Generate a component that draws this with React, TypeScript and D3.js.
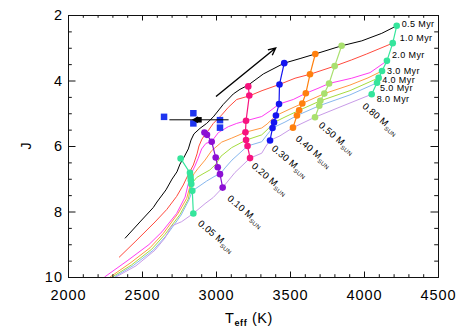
import { useRef, useEffect } from 'react';
import * as d3 from 'd3';

// isochrones (ages, colours)
const isoAges = ['0.5 Myr', '1.0 Myr', '2.0 Myr', '3.0 Myr', '4.0 Myr', '5.0 Myr', '8.0 Myr'];
const isoColors = ['#000000', '#ff4a3d', '#ff3cf2', '#ff9840', '#a5dc3f', '#87b7ee', '#c89be8'];

const iso05Teff = [2385, 2486, 2576, 2601, 2662, 2703, 2736, 2757, 2784, 2813, 2831, 2851, 2892, 2937, 2982, 3049, 3117, 3162, 3218, 3320, 3461, 3568, 3671, 3849, 3985, 4120, 4221];
const iso05J = [8.82, 8.32, 7.88, 7.71, 7.34, 7.01, 6.79, 6.55, 6.34, 6.09, 5.82, 5.63, 5.46, 5.31, 5.11, 4.73, 4.41, 4.27, 4.14, 3.80, 3.47, 3.33, 3.19, 2.94, 2.79, 2.56, 2.33];
const iso10Teff = [2345, 2459, 2588, 2667, 2734, 2779, 2804, 2847, 2872, 2885, 2905, 2926, 2946, 2982, 3039, 3083, 3140, 3225, 3311, 3429, 3534, 3635, 3802, 3917, 4018, 4194];
const iso10J = [9.40, 8.90, 8.32, 7.94, 7.54, 7.19, 6.95, 6.58, 6.24, 6.00, 5.79, 5.65, 5.54, 5.31, 5.05, 4.82, 4.58, 4.47, 4.31, 4.12, 3.93, 3.81, 3.56, 3.37, 3.19, 2.86];
const iso20Teff = [2247, 2399, 2547, 2635, 2734, 2791, 2814, 2838, 2858, 2880, 2903, 2932, 2971, 3016, 3083, 3140, 3203, 3309, 3365, 3426, 3522, 3607, 3689, 3764, 3917, 4041, 4155];
const iso20J = [10.0, 9.51, 9.01, 8.62, 8.06, 7.56, 7.13, 6.79, 6.61, 6.37, 6.09, 5.92, 5.86, 5.59, 5.41, 5.31, 5.23, 5.10, 4.93, 4.72, 4.58, 4.39, 4.24, 4.09, 3.93, 3.76, 3.40];
const iso30Teff = [2284, 2419, 2554, 2644, 2745, 2802, 2821, 2830, 2851, 2878, 2926, 2971, 3039, 3106, 3199, 3309, 3345, 3405, 3500, 3583, 3732, 3905, 4027, 4122];
const iso30J = [10.0, 9.58, 9.11, 8.67, 8.05, 7.60, 7.28, 7.05, 6.85, 6.69, 6.43, 6.14, 5.88, 5.76, 5.58, 5.45, 5.33, 5.07, 4.87, 4.70, 4.40, 4.14, 3.92, 3.71];
const iso40Teff = [2299, 2430, 2566, 2655, 2757, 2813, 2833, 2870, 2912, 2959, 3000, 3034, 3106, 3203, 3309, 3351, 3392, 3473, 3562, 3705, 3905, 4099];
const iso40J = [10.0, 9.63, 9.15, 8.70, 8.09, 7.62, 7.16, 6.96, 6.85, 6.73, 6.55, 6.31, 6.05, 5.82, 5.66, 5.48, 5.28, 5.10, 4.91, 4.62, 4.31, 3.92];
const iso50Teff = [2313, 2441, 2576, 2667, 2764, 2818, 2840, 2892, 2937, 2993, 3027, 3061, 3108, 3213, 3309, 3345, 3382, 3466, 3547, 3698, 3905, 4088];
const iso50J = [10.0, 9.65, 9.18, 8.72, 8.11, 7.64, 7.37, 7.21, 7.07, 6.92, 6.86, 6.67, 6.43, 6.00, 5.87, 5.66, 5.45, 5.27, 5.07, 4.77, 4.44, 4.07];
const iso80Teff = [2324, 2459, 2588, 2655, 2701, 2768, 2847, 2926, 2982, 3045, 3128, 3230, 3309, 3338, 3365, 3432, 3520, 3669, 3838, 4052];
const iso80J = [10.0, 9.66, 9.18, 8.81, 8.44, 8.31, 8.06, 7.76, 7.57, 7.27, 6.81, 6.37, 6.22, 6.00, 5.83, 5.69, 5.44, 5.12, 4.81, 4.42];

// mass tracks (one point per age)
const masses = ['0.05', '0.10', '0.20', '0.30', '0.40', '0.50', '0.80'];
const massColors = ['#35e59c', '#8c10d4', '#f7137e', '#1414f0', '#ff800e', '#a9e06e', '#35e59c'];
const m005Teff = [2761, 2824, 2828, 2830, 2833, 2840, 2847];
const m005J = [6.38, 6.82, 6.95, 7.05, 7.16, 7.37, 8.06];
const m010Teff = [2922, 2939, 2971, 2998, 3012, 3027, 3045];
const m010J = [5.59, 5.66, 5.87, 6.35, 6.65, 6.86, 7.27];
const m020Teff = [3218, 3225, 3203, 3199, 3203, 3213, 3230];
const m020J = [4.18, 4.46, 5.23, 5.58, 5.82, 6.00, 6.37];
const m030Teff = [3461, 3429, 3426, 3405, 3392, 3382, 3365];
const m030J = [3.47, 4.12, 4.72, 5.07, 5.28, 5.45, 5.83];
const m040Teff = [3671, 3635, 3607, 3583, 3562, 3547, 3520];
const m040J = [3.19, 3.81, 4.39, 4.70, 4.91, 5.07, 5.44];
const m050Teff = [3849, 3802, 3764, 3732, 3705, 3698, 3669];
const m050J = [2.94, 3.56, 4.09, 4.40, 4.62, 4.77, 5.12];
const m080Teff = [4221, 4194, 4155, 4122, 4099, 4088, 4052];
const m080J = [2.33, 2.86, 3.40, 3.71, 3.92, 4.07, 4.42];

// observed objects
const sqTeff = [2649, 2847, 2847, 3027, 3027];
const sqJ = [5.11, 5.00, 5.31, 5.21, 5.44];
const starTeff = 2885;
const starJ = 5.20;
const starErr = 200;

// big arrow (start, end)
const arrowTeff = [3000, 3403];
const arrowJ = [4.49, 3.01];

const xMajor = [2000, 2500, 3000, 3500, 4000, 4500];
const yMajor = [2, 4, 6, 8, 10];

const W = 463, H = 331;
const margin = { top: 15, right: 25, bottom: 54, left: 68 };

// label offsets in px (layout only)
const massLabelOff = [[4, 11], [4, 12], [1, 9], [1, 9], [2, 12], [3, 9], [-10, 13]];
const ageLabelOff = [[5, 1], [7, -2], [5, -2.6], [5, 2.8], [3.6, 5.2], [3, 8.6], [5, 7.6]];

const App = () => {
  const svgRef = useRef<SVGSVGElement>(null);

  useEffect(() => {
    const svg = d3.select(svgRef.current);
    svg.selectAll('*').remove();
    const font = "'Liberation Sans', Arial, Helvetica, sans-serif";

    const x = d3.scaleLinear().domain([2000, 4500]).range([margin.left, W - margin.right]);
    const y = d3.scaleLinear().domain([2, 10]).range([margin.top, H - margin.bottom]);

    svg.append('rect').attr('width', W).attr('height', H).attr('fill', '#fff');

    svg.append('defs').append('clipPath').attr('id', 'plotClip').append('rect')
      .attr('x', x(2000)).attr('y', y(2))
      .attr('width', x(4500) - x(2000)).attr('height', y(10) - y(2));

    const plot = svg.append('g').attr('clip-path', 'url(#plotClip)');
    const line = d3.line<[number, number]>().x(d => x(d[0])).y(d => y(d[1]));

    const isoTeff = [iso05Teff, iso10Teff, iso20Teff, iso30Teff, iso40Teff, iso50Teff, iso80Teff];
    const isoJ = [iso05J, iso10J, iso20J, iso30J, iso40J, iso50J, iso80J];

    // isochrones
    isoTeff.forEach((tt, i) => {
      const pts = tt.map((t, k) => [t, isoJ[i][k]] as [number, number]);
      plot.append('path')
        .attr('d', line(pts))
        .attr('fill', 'none')
        .attr('stroke', isoColors[i])
        .attr('stroke-width', 1);
    });

    const mTeff = [m005Teff, m010Teff, m020Teff, m030Teff, m040Teff, m050Teff, m080Teff];
    const mJ = [m005J, m010J, m020J, m030J, m040J, m050J, m080J];

    // mass tracks
    mTeff.forEach((tt, i) => {
      const pts = tt.map((t, k) => [t, mJ[i][k]] as [number, number]);
      plot.append('path')
        .attr('d', line(pts))
        .attr('fill', 'none')
        .attr('stroke', massColors[i])
        .attr('stroke-width', 1.2);
      plot.selectAll(null)
        .data(pts)
        .join('circle')
        .attr('cx', d => x(d[0]))
        .attr('cy', d => y(d[1]))
        .attr('r', 3.3)
        .attr('fill', massColors[i]);
    });

    // observed squares
    const sq = 6.5;
    plot.selectAll(null)
      .data(sqTeff.map((t, k) => [t, sqJ[k]]))
      .join('rect')
      .attr('x', d => x(d[0]) - sq / 2)
      .attr('y', d => y(d[1]) - sq / 2)
      .attr('width', sq)
      .attr('height', sq)
      .attr('fill', '#1f35f0');

    // star with error bar
    plot.append('line')
      .attr('x1', x(starTeff - starErr)).attr('x2', x(starTeff + starErr))
      .attr('y1', y(starJ)).attr('y2', y(starJ))
      .attr('stroke', '#000').attr('stroke-width', 1);
    plot.append('path')
      .attr('d', d3.symbol(d3.symbolSquare, 30)())
      .attr('transform', `translate(${x(starTeff)},${y(starJ)})`)
      .attr('fill', '#000');
    plot.append('path')
      .attr('d', d3.symbol(d3.symbolTriangle, 22)())
      .attr('transform', `translate(${x(starTeff) - 3},${y(starJ)}) rotate(-90)`)
      .attr('fill', '#000');

    // big arrow
    const ax0 = x(arrowTeff[0]), ay0 = y(arrowJ[0]);
    const ax1 = x(arrowTeff[1]), ay1 = y(arrowJ[1]);
    const ang = Math.atan2(ay1 - ay0, ax1 - ax0);
    const hl = 8, ha = 0.45;
    plot.append('path')
      .attr('d', `M${ax0},${ay0}L${ax1},${ay1}` +
        `M${ax1 - hl * Math.cos(ang - ha)},${ay1 - hl * Math.sin(ang - ha)}L${ax1},${ay1}` +
        `L${ax1 - hl * Math.cos(ang + ha)},${ay1 - hl * Math.sin(ang + ha)}`)
      .attr('fill', 'none')
      .attr('stroke', '#000')
      .attr('stroke-width', 1.4);

    // age labels next to the 0.80 track
    isoAges.forEach((a, k) => {
      svg.append('text')
        .attr('x', x(m080Teff[k]) + ageLabelOff[k][0])
        .attr('y', y(m080J[k]) + ageLabelOff[k][1])
        .attr('font-family', font)
        .attr('font-size', 9)
        .attr('letter-spacing', 0.4)
        .text(a);
    });

    // mass labels, rotated
    masses.forEach((m, i) => {
      const px = x(mTeff[i][6]) + massLabelOff[i][0];
      const py = y(mJ[i][6]) + massLabelOff[i][1];
      const t = svg.append('text')
        .attr('transform', `translate(${px},${py}) rotate(40)`)
        .attr('font-family', font)
        .attr('font-size', 9.5)
        .attr('letter-spacing', 0.3);
      t.append('tspan').text(`${m} M`);
      t.append('tspan').attr('font-size', 5.8).attr('dy', 2.5).text('SUN');
    });

    // axes
    const styleAxis = (g: any) => {
      g.selectAll('.domain').attr('stroke', '#111').attr('stroke-width', 1);
      g.selectAll('.tick line').attr('stroke', '#111');
      g.selectAll('text')
        .attr('font-family', font)
        .attr('font-size', 14.5)
        .attr('letter-spacing', 1)
        .attr('fill', '#000');
    };
    const xMinor = d3.range(2000, 4501, 100).filter(v => v % 500 !== 0);
    const yMinor = d3.range(2, 10.01, 0.5).filter(v => v % 2 !== 0);
    const noLab = () => '';

    const gB = svg.append('g').attr('transform', `translate(0,${y(10)})`)
      .call(d3.axisBottom(x).tickValues(xMajor).tickSize(-5.5).tickSizeOuter(0).tickPadding(13).tickFormat(d3.format('d')));
    styleAxis(gB);
    const gBm = svg.append('g').attr('transform', `translate(0,${y(10)})`)
      .call(d3.axisBottom(x).tickValues(xMinor).tickSize(-2.8).tickSizeOuter(0).tickFormat(noLab));
    styleAxis(gBm);

    const gT = svg.append('g').attr('transform', `translate(0,${y(2)})`)
      .call(d3.axisTop(x).tickValues(xMajor).tickSize(-5.5).tickSizeOuter(0).tickFormat(noLab));
    styleAxis(gT);
    const gTm = svg.append('g').attr('transform', `translate(0,${y(2)})`)
      .call(d3.axisTop(x).tickValues(xMinor).tickSize(-2.8).tickSizeOuter(0).tickFormat(noLab));
    styleAxis(gTm);

    const gL = svg.append('g').attr('transform', `translate(${x(2000)},0)`)
      .call(d3.axisLeft(y).tickValues(yMajor).tickSize(-7.5).tickSizeOuter(0).tickPadding(5).tickFormat(d3.format('d')));
    styleAxis(gL);
    const gLm = svg.append('g').attr('transform', `translate(${x(2000)},0)`)
      .call(d3.axisLeft(y).tickValues(yMinor).tickSize(-3.8).tickSizeOuter(0).tickFormat(noLab));
    styleAxis(gLm);

    const gR = svg.append('g').attr('transform', `translate(${x(4500)},0)`)
      .call(d3.axisRight(y).tickValues(yMajor).tickSize(-7.5).tickSizeOuter(0).tickFormat(noLab));
    styleAxis(gR);
    const gRm = svg.append('g').attr('transform', `translate(${x(4500)},0)`)
      .call(d3.axisRight(y).tickValues(yMinor).tickSize(-3.8).tickSizeOuter(0).tickFormat(noLab));
    styleAxis(gRm);

    // axis titles
    svg.append('text')
      .attr('transform', `translate(30.5,${y(6)}) rotate(-90)`)
      .attr('text-anchor', 'middle')
      .attr('font-family', font)
      .attr('font-size', 14)
      .text('J');

    const tt = svg.append('text')
      .attr('x', 225)
      .attr('y', 323)
      .attr('font-family', font)
      .attr('font-size', 14.5)
      .attr('letter-spacing', 0.6);
    tt.append('tspan').text('T');
    tt.append('tspan').attr('font-size', 9).attr('font-weight', 'bold').attr('dy', 3).text('eff');
    tt.append('tspan').attr('dy', -3).text(' (K)');
  }, []);

  return (
    <svg
      ref={svgRef}
      width={W}
      height={H}
      style={{ position: 'absolute', left: 0, top: 0, display: 'block' }}
    />
  );
};

export default App;
